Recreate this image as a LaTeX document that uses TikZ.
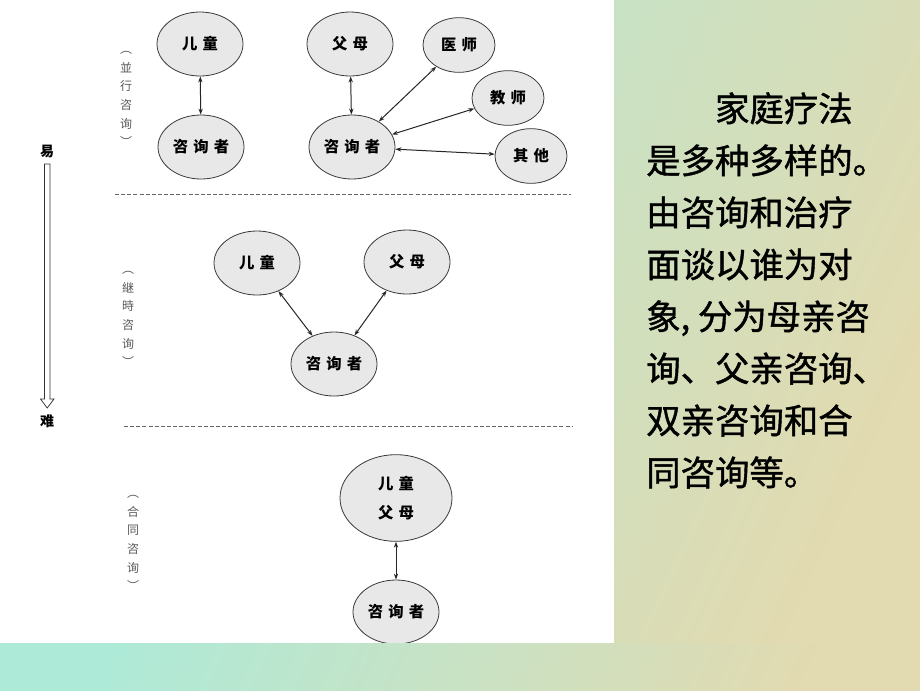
\documentclass[tikz,border=0pt]{standalone}
\usepackage{fontspec}
\setmainfont{Noto Sans CJK SC}
\newfontfamily\bodyfont[FakeBold=1.2]{Noto Sans CJK SC}
\usetikzlibrary{shapes.geometric,arrows.meta}
\definecolor{bgA}{HTML}{AEEAD8}
\definecolor{bgB}{HTML}{E2DAB0}
\definecolor{ellfill}{HTML}{E8E8E8}
\definecolor{ellline}{HTML}{3A3A3A}
\definecolor{labgray}{HTML}{5A5A5A}
\tikzset{
  ell/.style={ellipse, draw=ellline, line width=0.6pt, fill=ellfill, inner sep=0pt,
    minimum width=64.5pt, minimum height=48pt, font=\bfseries\fontsize{11.5}{13}\selectfont},
  ellsmall/.style={ell, minimum width=54pt, minimum height=41pt},
  ellbig/.style={ell, minimum width=84pt, minimum height=65pt},
  link/.style={{Stealth[length=4.5pt,width=3.2pt]}-{Stealth[length=4.5pt,width=3.2pt]}, line width=0.75pt, draw=black!85},
  sep/.style={draw=black!60, line width=0.6pt, dash pattern=on 3pt off 1.6pt},
  vlab/.style={font=\fontsize{9}{14}\selectfont, text=labgray, align=center, inner sep=0pt},
  endlab/.style={font=\bfseries\fontsize{10.5}{12}\selectfont, inner sep=0pt},
  bigarrow/.style={draw=black!80, line width=0.55pt, fill=white},
  bodytext/.style={font=\bodyfont\fontsize{25.8}{39}\selectfont, align=left, inner sep=0pt, anchor=north west}
}
\begin{document}
\begin{tikzpicture}[x=0.75pt, y=-0.75pt]
\useasboundingbox (0,0) rectangle (920,690);
\shade[left color=bgA, right color=bgB, shading angle=65] (0,0) rectangle (920,690);
\fill[white] (0,0) rectangle (614,643);

% section 1: parallel
\node[ell] (c1) at (200,44) {儿\,\,童};
\node[ell] (k1) at (201,147) {咨\,\,询\,\,者};
\draw[link] (c1) -- (k1);
\node[ell] (p1) at (350,44) {父\,\,母};
\node[ell] (k2) at (352,147) {咨\,\,询\,\,者};
\node[ellsmall] (d1) at (459,45) {医\,\,师};
\node[ellsmall] (t1) at (508,98) {教\,\,师};
\node[ellsmall] (o1) at (531,156) {其\,\,他};
\draw[link] (p1) -- (k2);
\draw[link] (k2) -- (d1);
\draw[link] (k2) -- (t1);
\draw[link] (k2) -- (o1);
\node[vlab] (l1) at (126,99) {︵\\並\\行\\咨\\询\\︶};

\coordinate (s1a) at (115,194);
\coordinate (s1b) at (571,194);
\draw[sep] (s1a) -- (s1b);

% section 2: successive
\node[ell] (c2) at (257,263) {儿\,\,童};
\node[ell] (p2) at (407,262) {父\,\,母};
\node[ell] (k3) at (334,364) {咨\,\,询\,\,者};
\draw[link] (c2) -- (k3);
\draw[link] (p2) -- (k3);
\node[vlab] (l2) at (128,319) {︵\\継\\時\\咨\\询\\︶};

\coordinate (s2a) at (124,426);
\coordinate (s2b) at (573,426);
\draw[sep] (s2a) -- (s2b);

% section 3: joint
\node[ellbig, align=center, font=\bfseries\fontsize{11.5}{22}\selectfont] (cp) at (396,498) {儿\,\,童\\父\,\,母};
\node[ell] (k4) at (396,612) {咨\,\,询\,\,者};
\draw[link] (cp) -- (k4);
\node[vlab] (l3) at (133,543) {︵\\合\\同\\咨\\询\\︶};

% easy -> difficult arrow
\node[endlab] (easy) at (47,152) {易};
\node[endlab] (hard) at (47,421) {难};
\draw[bigarrow] (44.5,164) -- (50,164) -- (50,399) -- (54,399) -- (47.2,408) -- (40.5,399) -- (44.5,399) -- cycle;

% bottom strip covers the lower ellipse
\shade[left color=bgA, right color=bgB, shading angle=65] (0,643) rectangle (920,690);

% body text
\node[bodytext] (body) at (646,92) {\hspace{2em}家庭疗法\\是多种多样的。\\由咨询和治疗\\面谈以谁为对\\象, 分为母亲咨\\询、父亲咨询、\\双亲咨询和合\\同咨询等。};
\end{tikzpicture}
\end{document}
